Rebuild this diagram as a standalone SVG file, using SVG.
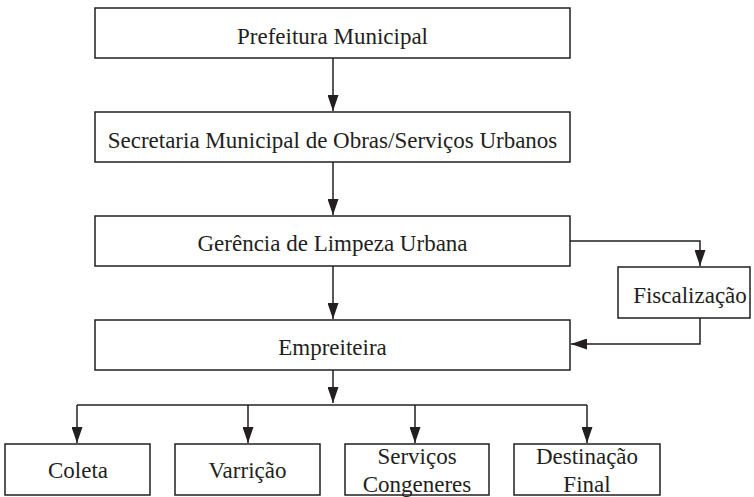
<svg xmlns="http://www.w3.org/2000/svg" width="754" height="497" viewBox="0 0 754 497">
<defs>
<marker id="ah" markerWidth="16" markerHeight="11" refX="16" refY="5.5" orient="auto" markerUnits="userSpaceOnUse" viewBox="0 0 16 11">
<path d="M0,0 L16,5.5 L0,11 Z" fill="#231f20"/>
</marker>
<style>
rect{fill:#fff;stroke:#231f20;stroke-width:1.5}
text{font-size:23px;fill:#231f20;text-anchor:middle}
#connectors path{fill:none;stroke:#231f20;stroke-width:1.5}
.a{marker-end:url(#ah)}
</style>
</defs>
<rect x="0" y="0" width="754" height="497" style="fill:#fff;stroke:none"/>
<g font-family="'Liberation Serif', 'DejaVu Serif', serif">
<g id="prefeitura"><rect x="95" y="8" width="475" height="50"/><text x="332.5" y="44">Prefeitura Municipal</text></g>
<g id="secretaria"><rect x="95" y="112" width="475" height="50"/><text x="332.5" y="148">Secretaria Municipal de Obras/Serviços Urbanos</text></g>
<g id="gerencia"><rect x="95" y="216" width="475" height="50"/><text x="332.5" y="251">Gerência de Limpeza Urbana</text></g>
<g id="fiscalizacao"><rect x="618" y="267" width="132" height="51"/><text x="690" y="303">Fiscalização</text></g>
<g id="empreiteira"><rect x="95" y="320" width="475" height="50"/><text x="332.5" y="355">Empreiteira</text></g>
<g id="coleta"><rect x="5" y="444" width="145" height="51"/><text x="78" y="478">Coleta</text></g>
<g id="varricao"><rect x="175" y="444" width="145" height="51"/><text x="247.5" y="478">Varrição</text></g>
<g id="servicos"><rect x="345" y="444" width="144" height="51"/><text x="417" y="464">Serviços</text><text x="417" y="492">Congeneres</text></g>
<g id="destinacao"><rect x="514" y="444" width="146" height="51"/><text x="587" y="464">Destinação</text><text x="587" y="492">Final</text></g>
</g>
<g id="connectors">
<path class="a" d="M333,58 V111"/>
<path class="a" d="M333,162 V215"/>
<path class="a" d="M570,241 H700 V266"/>
<path class="a" d="M333,266 V319"/>
<path class="a" d="M700,318 V344 H571"/>
<path class="a" d="M333,370 V403"/>
<path d="M77,405 H587"/>
<path class="a" d="M77,405 V443"/>
<path class="a" d="M248,405 V443"/>
<path class="a" d="M415,405 V443"/>
<path class="a" d="M587,405 V443"/>
</g>
</svg>
